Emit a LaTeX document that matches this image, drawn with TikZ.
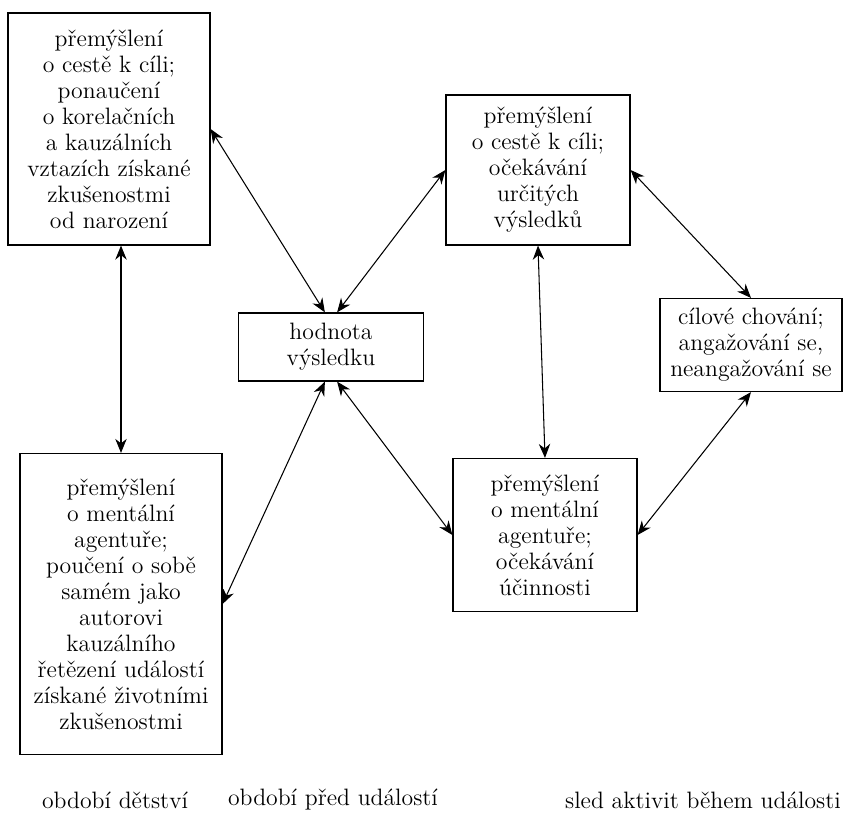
\documentclass[tikz,border=0pt]{standalone}
\usepackage{fontspec}
\usetikzlibrary{arrows.meta,positioning}

\begin{document}
\begin{tikzpicture}[x=0.02cm, y=-0.02cm,
	my box/.style = {draw, line width=0.7pt,
                   align=center, inner sep=2pt,
                   font=\fontsize{13.5}{14.8}\selectfont},
	my link/.style = {{Stealth[length=8pt,width=6.5pt]}-{Stealth[length=8pt,width=6.5pt]},
                   line width=0.6pt},
	my label/.style = {font=\fontsize{13.5}{15}\selectfont}
                   ]
\useasboundingbox (0,0) rectangle (843,819);

% boxes
\node[my box, minimum width=4.04cm, minimum height=4.64cm] (past) at (109,129)
	{přemýšlení\\ o cestě k cíli;\\ ponaučení\\ o korelačních\\ a kauzálních\\ vztazích získané\\ zkušenostmi\\ od narození};
\node[my box, minimum width=4.04cm, minimum height=6.02cm] (self) at (121,604)
	{přemýšlení\\ o mentální\\ agentuře;\\ poučení o sobě\\ samém jako\\ autorovi\\ kauzálního\\ řetězení událostí\\ získané životními\\ zkušenostmi};
\node[my box, minimum width=3.7cm, minimum height=1.36cm] (value) at (331,347)
	{hodnota\\ výsledku};
\node[my box, minimum width=3.68cm, minimum height=3cm] (goal) at (538,170)
	{přemýšlení\\ o cestě k cíli;\\ očekávání\\ určitých\\ výsledků};
\node[my box, minimum width=3.68cm, minimum height=3.06cm] (agency) at (545,535)
	{přemýšlení\\ o mentální\\ agentuře;\\ očekávání\\ účinnosti};
\node[my box, minimum width=3.64cm, minimum height=1.86cm] (behav) at (751,345)
	{cílové chování;\\ angažování se,\\ neangažování se};

% links
\draw[my link] (past.south -| self.north) -- (self.north);
\draw[my link] (past.east) -- (value.100);
\draw[my link] (self.east) -- (value.-100);
\draw[my link] (value.80) -- (goal.west);
\draw[my link] (value.-80) -- (agency.west);
\draw[my link] (goal.south) -- (agency.north);
\draw[my link] (goal.east) -- (behav.north);
\draw[my link] (agency.east) -- (behav.south);

% periods
\node[my label] (childhood) at (115,800) {období dětství};
\node[my label] (before) at (333,800) {období před událostí};
\node[my label] (during) at (703,800) {sled aktivit během události};
\end{tikzpicture}
\end{document}
